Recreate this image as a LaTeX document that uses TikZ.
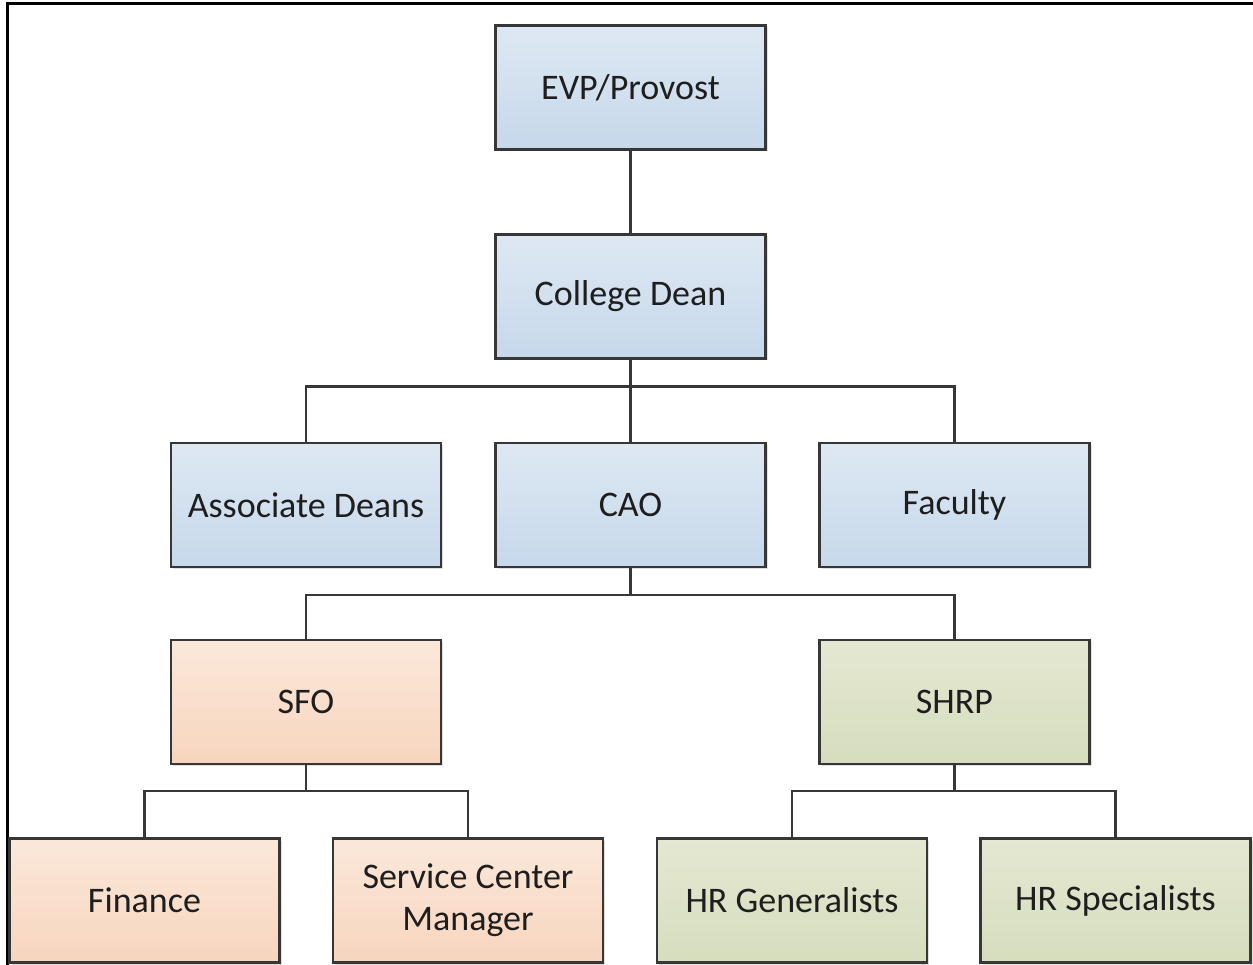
\documentclass[tikz,border=0pt]{standalone}
\usepackage{fontspec}
\setmainfont{Carlito}
\usetikzlibrary{shadows}
\definecolor{txt}{RGB}{30,30,30}
\definecolor{edge}{RGB}{55,55,55}
\definecolor{blueT}{RGB}{222,232,243}
\definecolor{blueB}{RGB}{198,216,235}
\definecolor{orT}{RGB}{251,232,218}
\definecolor{orB}{RGB}{247,213,190}
\definecolor{grT}{RGB}{228,232,210}
\definecolor{grB}{RGB}{214,221,189}
\tikzset{
  orgbox/.style={draw=edge, line width=2.2pt, minimum width=270pt, minimum height=124pt,
    inner sep=0pt, font=\fontsize{36}{42}\selectfont, text=txt, align=center,
    drop shadow={shadow xshift=2pt, shadow yshift=-2pt, fill=black, opacity=0.12}},
  bluebox/.style={orgbox, top color=blueT, bottom color=blueB},
  orbox/.style={orgbox, top color=orT, bottom color=orB},
  grbox/.style={orgbox, top color=grT, bottom color=grB},
  conn/.style={draw=edge, line width=2.2pt}
}
\begin{document}
\begin{tikzpicture}[x=1pt,y=-1pt]
\useasboundingbox (0,0) rectangle (1253,965);
\fill[white] (0,0) rectangle (1253,965);
\draw[line width=2.2pt, black] (7.5,966) -- (7.5,3.5) -- (1254,3.5);
\node[bluebox] (evp) at (630.5,87.5) {EVP/Provost};
\node[bluebox] (dean) at (630.5,296.5) {College Dean};
\node[bluebox] (ad) at (306,505) {Associate Deans};
\node[bluebox] (cao) at (630.5,505) {CAO};
\node[bluebox] (fac) at (954.5,505) {Faculty};
\node[orbox] (sfo) at (306,702) {SFO};
\node[grbox] (shrp) at (954.5,702) {SHRP};
\node[orbox] (fin) at (144.5,900.5) {Finance};
\node[orbox] (scm) at (468,900.5) {Service Center\\Manager};
\node[grbox] (hrg) at (792,900.5) {HR Generalists};
\node[grbox] (hrs) at (1115.5,900.5) {HR Specialists};
\draw[conn] (evp.south) -- (dean.north);
\draw[conn] (dean.south) -- ++(0,27) -| (ad.north);
\draw[conn] (dean.south) -- ++(0,27) -| (fac.north);
\draw[conn] (dean.south) -- (cao.north);
\draw[conn] (cao.south) -- ++(0,27) -| (sfo.north);
\draw[conn] (cao.south) -- ++(0,27) -| (shrp.north);
\draw[conn] (sfo.south) -- ++(0,26) -| (fin.north);
\draw[conn] (sfo.south) -- ++(0,26) -| (scm.north);
\draw[conn] (shrp.south) -- ++(0,26) -| (hrg.north);
\draw[conn] (shrp.south) -- ++(0,26) -| (hrs.north);
\end{tikzpicture}
\end{document}
